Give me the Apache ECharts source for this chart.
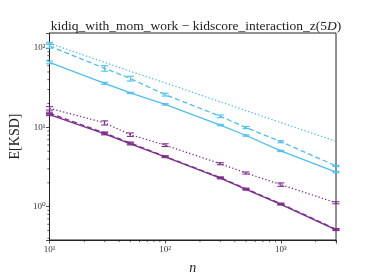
<!DOCTYPE html>
<html><head><meta charset="utf-8">
<script src="https://cdn.jsdelivr.net/npm/echarts@6/dist/echarts.min.js"></script>
<style>html,body{margin:0;padding:0;background:#fff}#c{width:374px;height:280px}</style>
</head><body><div id="c"></div>
<script>
var ns = [10, 30, 50, 100, 300, 500, 1000, 3000];
var blueSolid   = [66, 36, 27.2, 19.5, 10.7, 7.9, 5.05, 2.73];
var blueDashed  = [106, 55.6, 41.3, 25.9, 13.8, 9.95, 6.6, 3.27];
var blueDotted  = [115, 66, 51, 36.5, 21, 16.3, 11.5, 6.7];
var purpleSolid = [14.5, 8.3, 6.2, 4.24, 2.29, 1.65, 1.07, 0.51];
var purpleDashed= [15.1, 8.5, 6.35, 4.3, 2.33, 1.68, 1.09, 0.52];
var purpleDotted= [17.4, 11.4, 8.1, 5.97, 3.48, 2.66, 1.9, 1.12];
var errBlueSolid   = [0.04, 0.03, 0.02, 0.02, 0.02, 0.02, 0.02, 0.02];
var errBlueDashed  = [0.06, 0.08, 0.07, 0.04, 0.04, 0.03, 0.03, 0.02];
var errBlueDotted  = [0.03, 0, 0, 0, 0, 0, 0, 0];
var errPurpleSolid = [0.03, 0.03, 0.03, 0.02, 0.02, 0.02, 0.02, 0.02];
var errPurpleDashed= [0.03, 0.03, 0.03, 0.02, 0.02, 0.02, 0.02, 0.02];
var errPurpleDotted= [0.05, 0.06, 0.05, 0.04, 0.03, 0.03, 0.05, 0.03];
var xMinorTicks = [20,30,40,50,60,70,80,90,200,300,400,500,600,700,800,900,2000,3000];
var yMinorTicks = [0.4,0.5,0.6,0.7,0.8,0.9,2,3,4,5,6,7,8,9,20,30,40,50,60,70,80,90];

var BLUE = '#4DBEEE', PURPLE = '#7E2F8E';
var FONT = '"Liberation Serif", "DejaVu Serif", serif';
var sup = {'0':'\u2070','1':'\u00b9','2':'\u00b2','3':'\u00b3','-':'\u207b'};
function powLabel(v){
  var l = Math.log10(v), r = Math.round(l);
  if (Math.abs(l - r) > 1e-6) return '';
  return '10' + String(r).split('').map(function(c){return sup[c];}).join('');
}
function pairs(ys){ return ns.map(function(n,i){return [n, ys[i]];}); }
function errData(ys, es){
  var out = [];
  ns.forEach(function(n,i){ if (es[i] > 0) out.push([n, ys[i]*(1-es[i]), ys[i]*(1+es[i])]); });
  return out;
}

function lineSeries(ys, color, type){
  return {type:'line', data:pairs(ys), showSymbol:false, symbol:'none', z:3,
    lineStyle:{color:color, width:1.3, type:type}};
}
function errSeries(ys, es, color){
  return {type:'custom', data:errData(ys, es), z:4, silent:true,
    renderItem:function(params, api){
      var x = api.value(0);
      var lo = api.coord([x, api.value(1)]), hi = api.coord([x, api.value(2)]);
      var cw = 3.5;
      return {type:'group', children:[
        {type:'line', shape:{x1:lo[0], y1:lo[1], x2:hi[0], y2:hi[1]}, style:{stroke:color, lineWidth:1.1}},
        {type:'line', shape:{x1:lo[0]-cw, y1:lo[1], x2:lo[0]+cw, y2:lo[1]}, style:{stroke:color, lineWidth:1.1}},
        {type:'line', shape:{x1:hi[0]-cw, y1:hi[1], x2:hi[0]+cw, y2:hi[1]}, style:{stroke:color, lineWidth:1.1}}
      ]};
    }};
}
function minorX(){
  return {type:'custom', data:xMinorTicks.map(function(v){return [v, 1];}), z:5, silent:true, clip:false,
    renderItem:function(params, api){
      var p = api.coord([api.value(0), api.value(1)]);
      var y0 = params.coordSys.y + params.coordSys.height;
      return {type:'line', shape:{x1:p[0], y1:y0, x2:p[0], y2:y0+2.2}, style:{stroke:'#222', lineWidth:0.7}};
    }};
}
function minorY(){
  return {type:'custom', data:yMinorTicks.map(function(v){return [10, v];}), z:5, silent:true, clip:false,
    renderItem:function(params, api){
      var p = api.coord([api.value(0), api.value(1)]);
      var x0 = params.coordSys.x;
      return {type:'line', shape:{x1:x0, y1:p[1], x2:x0-2.2, y2:p[1]}, style:{stroke:'#222', lineWidth:0.7}};
    }};
}

var chart = echarts.init(document.getElementById('c'), null, {renderer:'canvas'});
chart.setOption({
  animation:false,
  backgroundColor:'#fff',
  title:{text:'{a|kidiq_with_mom_work \u2212 kidscore_interaction_z(5}{i|D}{a|)}', left:191, top:14, textAlign:'center',
    textStyle:{fontWeight:'normal', rich:{a:{fontFamily:FONT, fontSize:13.5, fontWeight:'normal', color:'#222'}, i:{fontFamily:FONT, fontSize:13.5, fontWeight:'normal', fontStyle:'italic', color:'#222'}}}},
  grid:{left:46, right:38, top:33, bottom:31, show:true, borderColor:'#222', borderWidth:1},
  xAxis:{type:'log', logBase:10, min:10, max:3000,
    name:'n', nameLocation:'middle', nameGap:21,
    nameTextStyle:{fontFamily:FONT, fontStyle:'italic', fontSize:14, color:'#222'},
    axisLine:{show:true, onZero:false, lineStyle:{color:'#222', width:1}},
    axisTick:{show:true, length:3.5, inside:false, lineStyle:{color:'#222', width:0.8}},
    splitLine:{show:false},
    axisLabel:{formatter:powLabel, fontFamily:FONT, fontSize:9, color:'#333', margin:5, showMinLabel:true, showMaxLabel:true}},
  yAxis:{type:'log', logBase:10, min:0.38, max:155,
    name:'E[KSD]', nameLocation:'middle', nameGap:25, nameRotate:90,
    nameTextStyle:{fontFamily:FONT, fontSize:14, color:'#222'},
    axisLine:{show:true, lineStyle:{color:'#222', width:1}},
    axisTick:{show:true, length:3.5, inside:false, lineStyle:{color:'#222', width:0.8}},
    splitLine:{show:false},
    axisLabel:{formatter:powLabel, fontFamily:FONT, fontSize:9, color:'#333', margin:4}},
  series:[
    lineSeries(blueDotted, BLUE, [1.3, 2.2]),
    lineSeries(blueDashed, BLUE, [5, 3]),
    lineSeries(blueSolid, BLUE, 'solid'),
    lineSeries(purpleDotted, PURPLE, [1.3, 2.2]),
    lineSeries(purpleDashed, PURPLE, [5, 3]),
    lineSeries(purpleSolid, PURPLE, 'solid'),
    errSeries(blueDotted, errBlueDotted, BLUE),
    errSeries(blueDashed, errBlueDashed, BLUE),
    errSeries(blueSolid, errBlueSolid, BLUE),
    errSeries(purpleDotted, errPurpleDotted, PURPLE),
    errSeries(purpleDashed, errPurpleDashed, PURPLE),
    errSeries(purpleSolid, errPurpleSolid, PURPLE),
    minorX(), minorY()
  ]
});
</script></body></html>
